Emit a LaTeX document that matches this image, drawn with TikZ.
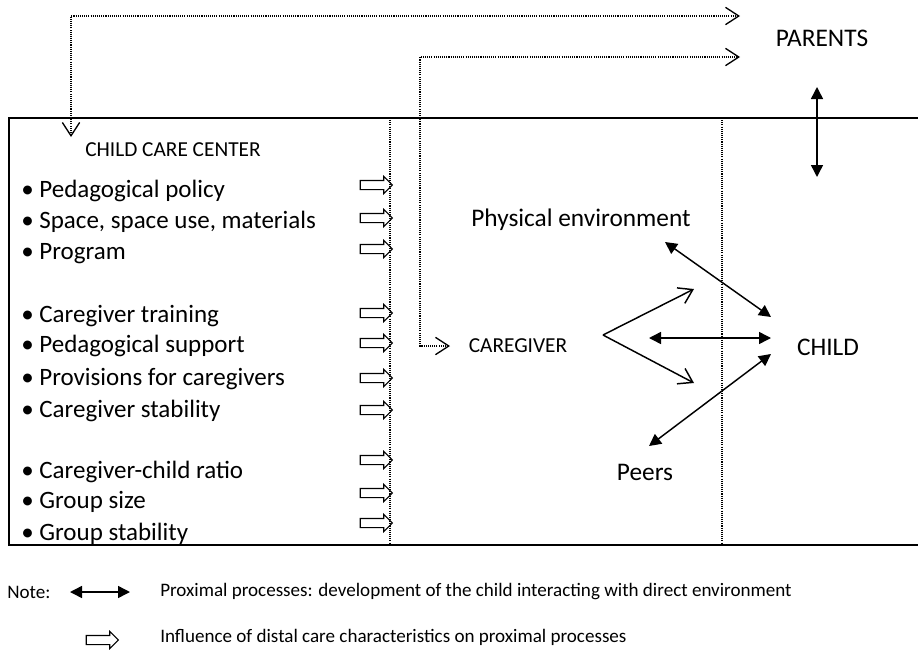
\documentclass[tikz,border=0pt]{standalone}
\usepackage{fontspec}
\setmainfont{Carlito}
\usetikzlibrary{arrows.meta,shapes.arrows}

\tikzset{
  item/.style={anchor=base west,inner sep=0pt,font=\fontsize{18.75}{20}\selectfont},
  label/.style={inner sep=1pt,font=\fontsize{19}{22}\selectfont},
  caps/.style={inner sep=1pt,font=\fontsize{16}{18}\selectfont},
  legend/.style={anchor=west,inner sep=0pt,font=\fontsize{14.3}{16}\selectfont},
  dotline/.style={line width=0.8pt,dash pattern=on 0.8pt off 0.8pt},
  hollow/.style={single arrow,draw,line width=0.8pt,minimum height=24pt,
    inner sep=3pt,single arrow head extend=3pt},
  both/.style={line width=1.1pt,arrows={Triangle[length=9pt,width=9pt]-Triangle[length=9pt,width=9pt]}},
  barbs/.style={arrows={Straight Barb[length=10pt,width=13pt,line width=1pt]-Straight Barb[length=10pt,width=13pt,line width=1pt]}},
  tobarb/.style={line width=1.1pt,arrows={-Straight Barb[length=10pt,width=13pt]}}
}

\begin{document}
\begin{tikzpicture}[x=0.75pt,y=-0.75pt]
  \useasboundingbox (0,0) rectangle (918,650);
  \draw[line width=1pt] (918,118) -- (9,118) -- (9,545) -- (918,545);
  \draw[dotline] (390,118) -- (390,545);
  \draw[dotline] (722,118) -- (722,545);

  \node[caps] (center) at (173,150) {CHILD CARE CENTER};
  \foreach \y/\t in {197/Pedagogical policy,228/{Space, space use, materials},259/Program,
      322/Caregiver training,352/Pedagogical support,385/Provisions for caregivers,
      417/Caregiver stability,478/Caregiver-child ratio,508/Group size,540/Group stability}
    \node[item] (item\y) at (21,\y) {\textbullet\ \t};
  \foreach \y in {185,218,249,313,343,378,410,460,493,523}
    \node[hollow] (in\y) at (374,\y) {};

  \node[label] (parents) at (822,38) {PARENTS};
  \node[caps] (caregiver) at (518,346) {CAREGIVER};
  \node[label] (child) at (828,347) {CHILD};
  \node[label] (physical) at (581,220) {Physical environment};
  \node[label] (peers) at (645,472) {Peers};

  \coordinate (toparents) at (740,16);
  \coordinate (tocenter) at (71,137);
  \coordinate (toparents2) at (740,57);
  \coordinate (corner) at (420,57);
  \coordinate (tocaregiver) at (450,346);
  \draw[dotline,barbs] (tocenter) |- (toparents);
  \draw[dotline,barbs] (tocaregiver) -| (corner) -- (toparents2);

  \coordinate (parentsup) at (817,87);
  \coordinate (parentsdown) at (817,177);
  \draw[both] (parentsup) -- (parentsdown);

  \coordinate (fork) at (603,335);
  \coordinate (forkup) at (694,289);
  \coordinate (forkdown) at (694,383);
  \draw[tobarb] (fork) -- (forkup);
  \draw[tobarb] (fork) -- (forkdown);

  \coordinate (physend) at (665,242);
  \coordinate (childup) at (771,317);
  \coordinate (midend) at (649,338);
  \coordinate (childmid) at (771,338);
  \coordinate (peersend) at (649,446);
  \coordinate (childdown) at (771,354);
  \draw[both] (physend) -- (childup);
  \draw[both] (midend) -- (childmid);
  \draw[both] (peersend) -- (childdown);

  \node[legend] (note) at (7,592) {Note:};
  \coordinate (keyleft) at (70,592);
  \coordinate (keyright) at (130,592);
  \draw[both] (keyleft) -- (keyright);
  \node[legend] (proximal) at (160,592)
    {Proximal processes: development of the child interacting with direct environment};
  \node[hollow] (key) at (100,640) {};
  \node[legend] (distal) at (160,637)
    {Influence of distal care characteristics on proximal processes};
\end{tikzpicture}
\end{document}
